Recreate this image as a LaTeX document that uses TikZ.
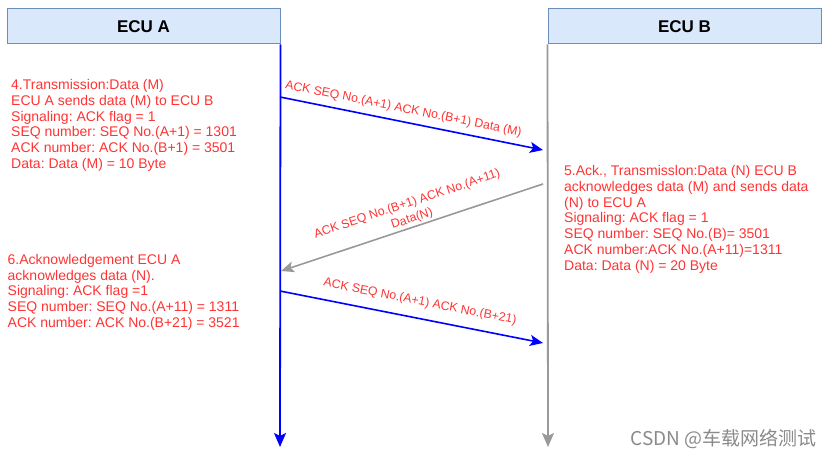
\documentclass[tikz,border=0pt]{standalone}
\usepackage{fontspec}
\setmainfont{Liberation Sans}
\newfontfamily\cjkfont{Noto Sans CJK SC}
\usetikzlibrary{arrows.meta}
\definecolor{hdrfill}{HTML}{DAE8FC}
\definecolor{hdrdraw}{HTML}{6C8EBF}
\definecolor{txtred}{HTML}{FF3333}
\definecolor{lgray}{HTML}{999999}
\definecolor{lblue}{HTML}{0000FF}
\definecolor{wmgray}{HTML}{8A8A8A}
\frenchspacing
\begin{document}
\begin{tikzpicture}[x=1pt,y=-1pt,
  hdr/.style={draw=hdrdraw, fill=hdrfill, line width=1pt, minimum width=273pt, minimum height=35pt, inner sep=0pt, font=\fontsize{17}{20}\selectfont\bfseries},
  note/.style={anchor=north west, inner sep=0pt, align=left, text=txtred, font=\fontsize{14}{15.7}\selectfont},
  msglbl/.style={text=txtred, font=\fontsize{12.3}{15.5}\selectfont, sloped, inner sep=0pt, align=center},
  bluearrow/.style={draw=lblue, line width=1.6pt, -{Stealth[length=13pt,width=11pt,inset=3pt]}},
  grayarrow/.style={draw=lgray, line width=1.6pt, -{Stealth[length=13pt,width=11pt,inset=3pt]}},
  lifeA/.style={draw=lblue, line width=1.8pt, -{Stealth[length=14pt,width=12pt,inset=3pt]}},
  lifeB/.style={draw=lgray, line width=1.8pt, -{Stealth[length=14pt,width=12pt,inset=3pt]}},
]
\useasboundingbox (0,0) rectangle (831,457);
\node[hdr] (ecuA) at (143.5,26.5) {ECU A};
\node[hdr] (ecuB) at (684.5,26.5) {ECU B};
\coordinate (aEnd) at (280,447);
\coordinate (bEnd) at (548,447);
\draw[lifeA] (ecuA.south east) -- (aEnd);
\draw[lifeB] (ecuB.south west) -- (bEnd);
\coordinate (a1) at (280,97);
\coordinate (b1) at (543,150);
\coordinate (b2) at (543,184);
\coordinate (a2) at (281,271);
\coordinate (a3) at (280,291);
\coordinate (b3) at (543,343);
\draw[bluearrow] (a1) -- node[msglbl, above=6pt, pos=0.46] (l1) {ACK SEQ No.(A+1) ACK No.(B+1) Data (M)} (b1);
\draw[grayarrow] (b2) -- node[msglbl, above=1.5pt, pos=0.49] (l2) {ACK SEQ No.(B+1) ACK No.(A+11)\\Data(N)} (a2);
\draw[bluearrow] (a3) -- node[msglbl, above=10pt, pos=0.52] (l3) {ACK SEQ No.(A+1) ACK No.(B+21)} (b3);
\node[note] (n4) at (11,79.5) {4.Transmission:Data (M)\\ECU A sends data (M) to ECU B\\Signaling: ACK flag = 1\\SEQ number: SEQ No.(A+1) = 1301\\ACK number: ACK No.(B+1) = 3501\\Data: Data (M) = 10 Byte};
\node[note] (n5) at (564,165.5) {5.Ack., Transmisslon:Data (N) ECU B\\acknowledges data (M) and sends data\\(N) to ECU A\\Signaling: ACK flag = 1\\SEQ number: SEQ No.(B)= 3501\\ACK number:ACK No.(A+11)=1311\\Data: Data (N) = 20 Byte};
\node[note] (n6) at (7.5,254) {6.Acknowledgement ECU A\\acknowledges data (N).\\Signaling: ACK flag =1\\SEQ number: SEQ No.(A+11) = 1311\\ACK number: ACK No.(B+21) = 3521};
\node[text=wmgray, font=\cjkfont\fontsize{19}{22}\selectfont, anchor=base east, inner sep=0pt] (wm) at (817,445) {CSDN @车载网络测试};
\end{tikzpicture}
\end{document}
